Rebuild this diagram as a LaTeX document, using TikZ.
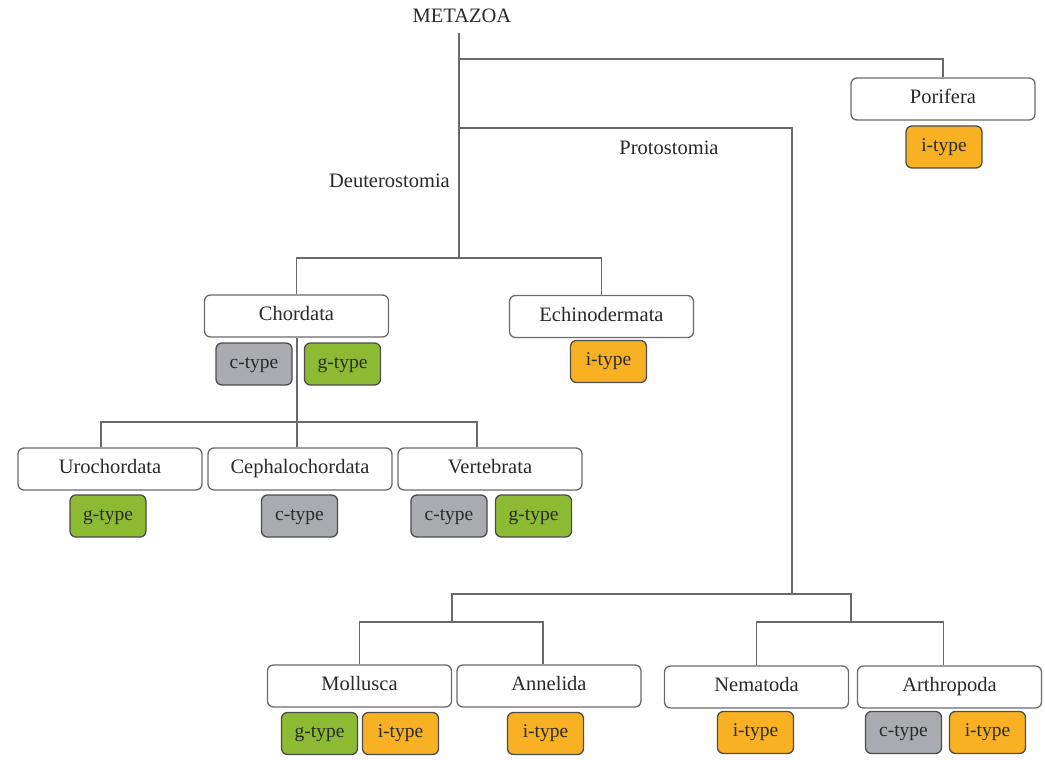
\documentclass[tikz,border=0pt]{standalone}
\usepackage{fontspec}
\setmainfont{Liberation Serif}
\definecolor{ctypegray}{HTML}{A9ABB0}
\definecolor{gtypegreen}{HTML}{8DBA33}
\definecolor{itypeorange}{HTML}{F8B122}
\definecolor{treeline}{HTML}{6A6A6A}
\definecolor{labeltext}{HTML}{2A2A2A}
\tikzset{
  taxon/.style={draw=treeline,line width=1.3pt,rounded corners=6pt,fill=white,
    minimum width=184pt,minimum height=42pt,inner sep=0pt,text=labeltext,
    text height=14pt,text depth=4.5pt,
    font=\fontsize{20.5}{24}\selectfont},
  tag/.style={draw=black!70,line width=1.3pt,rounded corners=6pt,
    minimum width=76pt,minimum height=42pt,inner sep=0pt,text=labeltext,
    text height=13pt,text depth=4.5pt,
    font=\fontsize{19.5}{23}\selectfont},
  ctag/.style={tag,fill=ctypegray},
  gtag/.style={tag,fill=gtypegreen},
  itag/.style={tag,fill=itypeorange},
  branch/.style={draw=treeline,line width=1.5pt},
  cladename/.style={text=labeltext,font=\fontsize{20.5}{24}\selectfont,inner sep=0pt}
}
\begin{document}
\begin{tikzpicture}[x=1pt,y=-1pt]
\useasboundingbox[fill=white] (0,0) rectangle (1045,760);
% root and clade labels
\node[cladename] (metazoa) at (462,16) {METAZOA};
\node[cladename,anchor=east] (deutlabel) at (450,181) {Deuterostomia};
\node[cladename] (protlabel) at (669,148) {Protostomia};
% junctions
\coordinate (root) at (459,33);
\coordinate (jPor) at (459,59);
\coordinate (jProt) at (459,128);
\coordinate (jDeut) at (459,258);
\coordinate (jChord) at (297,422);
\coordinate (jProto) at (792,594);
\coordinate (jSpir) at (452,622);
\coordinate (jEcd) at (851,622);
% taxa
\node[taxon] (porifera) at (943,99) {Porifera};
\node[taxon] (chordata) at (296.5,316) {Chordata};
\node[taxon] (echino) at (601.5,316.5) {Echinodermata};
\node[taxon] (uro) at (110,469) {Urochordata};
\node[taxon] (cephalo) at (300,469) {Cephalochordata};
\node[taxon] (vert) at (490,469) {Vertebrata};
\node[taxon] (mollusca) at (359.5,686) {Mollusca};
\node[taxon] (annelida) at (549,686) {Annelida};
\node[taxon] (nematoda) at (756.5,687) {Nematoda};
\node[taxon] (arthro) at (949.5,687) {Arthropoda};
% tree
\draw[branch] (root) -- (jDeut);
\draw[branch] (jPor) -| (porifera.north);
\draw[branch] (chordata.north) |- (jDeut) -| (echino.north);
\draw[branch] (chordata.south -| jChord) -- (jChord) -- (cephalo.north -| jChord);
\draw[branch] ([xshift=-9pt]uro.north) |- (jChord) -| ([xshift=-13pt]vert.north);
\draw[branch] (jProt) -| (jProto);
\draw[branch] (jSpir) |- (jProto) -| (jEcd);
\draw[branch] (mollusca.north) |- (jSpir) -| ([xshift=-6pt]annelida.north);
\draw[branch] (nematoda.north) |- (jEcd) -| ([xshift=-6pt]arthro.north);
% gene types
\node[itag] (poriferaI) at (944,147) {i-type};
\node[ctag] (chordataC) at (254,364) {c-type};
\node[gtag] (chordataG) at (342.5,364) {g-type};
\node[itag] (echinoI) at (608.5,361.5) {i-type};
\node[gtag] (uroG) at (108,516) {g-type};
\node[ctag] (cephaloC) at (299.5,516) {c-type};
\node[ctag] (vertC) at (449,516) {c-type};
\node[gtag] (vertG) at (533.5,516) {g-type};
\node[gtag] (molluscaG) at (319.5,733.5) {g-type};
\node[itag] (molluscaI) at (400.5,733.5) {i-type};
\node[itag] (annelidaI) at (545.5,733.5) {i-type};
\node[itag] (nematodaI) at (755.5,732.5) {i-type};
\node[ctag] (arthroC) at (903.5,732.5) {c-type};
\node[itag] (arthroI) at (987.5,732.5) {i-type};
\end{tikzpicture}
\end{document}
